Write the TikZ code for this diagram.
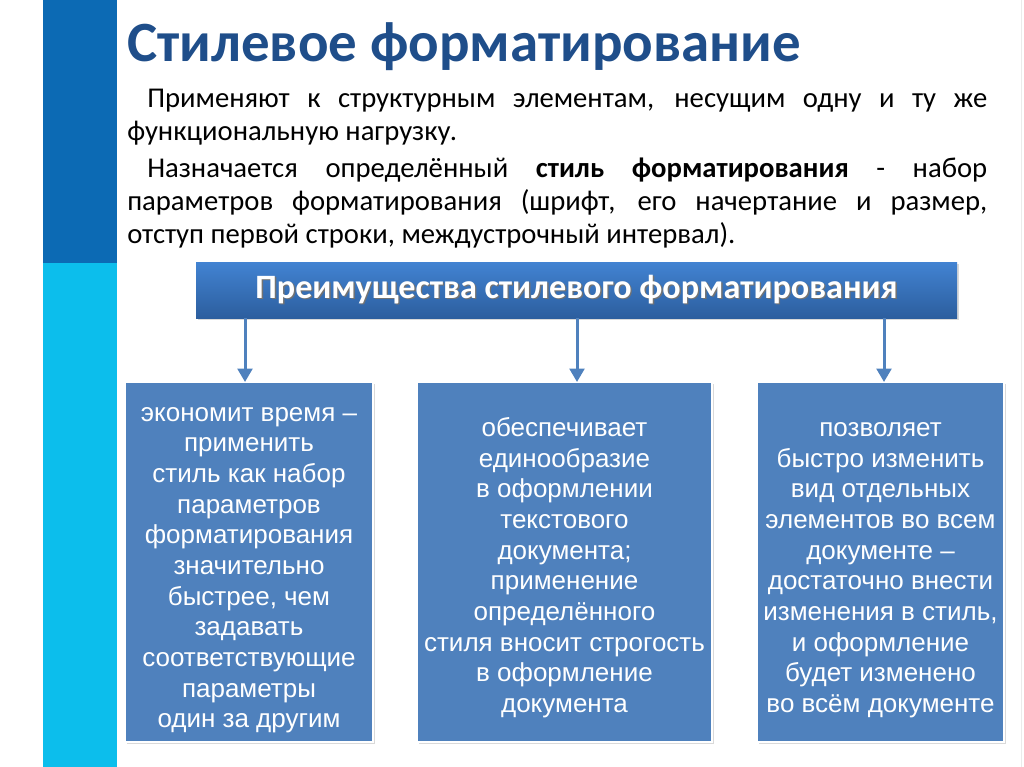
\documentclass[tikz,border=0pt]{standalone}
\usepackage{fontspec}
\setmainfont{Carlito}
\newfontfamily\boxfont{Liberation Sans}
\usetikzlibrary{arrows.meta,shadows}

\definecolor{bardark}{RGB}{12,106,180}
\definecolor{barlight}{RGB}{12,190,236}
\definecolor{titleblue}{RGB}{31,78,138}
\definecolor{hdrtop}{RGB}{66,131,210}
\definecolor{hdrbot}{RGB}{44,94,158}
\definecolor{boxblue}{RGB}{79,129,189}

% white text with a soft dark shadow
\newcommand{\shadowtext}[1]{\rlap{\kern1pt\raisebox{-1pt}{\textcolor{black!55}{#1}}}#1}
% extra room above the first line of a box
\newcommand{\topgap}{\rule{0pt}{23pt}}

\tikzset{
  advbox/.style={rectangle, fill=boxblue, draw=white, line width=1pt,
    minimum height=270pt, align=center, text=white, inner sep=2pt,
    font=\boxfont\fontsize{19.5}{23}\selectfont,
    drop shadow={shadow xshift=1.5pt, shadow yshift=-1.5pt, opacity=0.3}},
  hdrbox/.style={rectangle, top color=hdrtop, bottom color=hdrbot, draw=none,
    minimum width=570.75pt, minimum height=42pt, text=white,
    font=\bfseries\fontsize{25.6}{30}\selectfont,
    drop shadow={shadow xshift=1.5pt, shadow yshift=-1.5pt, opacity=0.3}},
  para/.style={anchor=north west, inner sep=0pt, text width=645pt, align=justify,
    font=\fontsize{21.5}{24.75}\selectfont,
    execute at begin node={\setlength\parindent{15pt}\setlength\parskip{3pt}}},
  conn/.style={draw=boxblue, line width=2.25pt, -{Triangle[width=11pt,length=10pt]}}
}

\begin{document}
\begin{tikzpicture}[x=0.75pt,y=0.75pt,yscale=-1,xscale=1]
  \useasboundingbox (0,0) rectangle (1024,767);

  % side bar
  \fill[bardark] (43,0) rectangle (117,263);
  \fill[barlight] (43,263) rectangle (117,767);
  \draw[black!8] (1021,0) -- (1021,767);

  % title
  \node[anchor=base west, inner sep=0pt, text=titleblue,
    font=\bfseries\fontsize{42.7}{50}\selectfont] (title) at (127,62)
    {Стилевое форматирование};

  % text
  \node[para] (txt) at (127,89)
    {\indent Применяют к структурным элементам, несущим одну и ту же\linebreak
     функциональную нагрузку.\par
     \indent Назначается определённый \textbf{стиль форматирования} - набор\linebreak
     параметров форматирования (шрифт, его начертание и размер,\linebreak
     отступ первой строки, междустрочный интервал).};

  % header
  \node[hdrbox] (hdr) at (576.5,290) {\shadowtext{Преимущества стилевого форматирования}};

  % boxes
  \node[advbox, minimum width=186pt] (b1) at (249,562)
    {\topgap экономит время –\\ применить\\ стиль как набор\\ параметров\\ форматирования\\
     значительно\\ быстрее, чем\\ задавать\\ соответствующие\\ параметры\\ один за другим};
  \node[advbox, minimum width=221.25pt] (b2) at (564.5,562)
    {\topgap обеспечивает\\ единообразие\\ в оформлении\\ текстового\\ документа;\\ применение\\
     определённого\\ стиля вносит строгость\\ в оформление\\ документа};
  \node[advbox, minimum width=185.25pt] (b3) at (880.5,562)
    {\topgap позволяет\\ быстро изменить\\ вид отдельных\\ элементов во всем\\ документе –\\
     достаточно внести\\ изменения в стиль,\\ и оформление\\ будет изменено\\ во всём документе};

  % arrows
  \coordinate (t1) at (245,382);
  \coordinate (t2) at (577,382);
  \coordinate (t3) at (884,382);
  \draw[conn] (hdr.south -| t1) -- (t1);
  \draw[conn] (hdr.south -| t2) -- (t2);
  \draw[conn] (hdr.south -| t3) -- (t3);
\end{tikzpicture}
\end{document}
